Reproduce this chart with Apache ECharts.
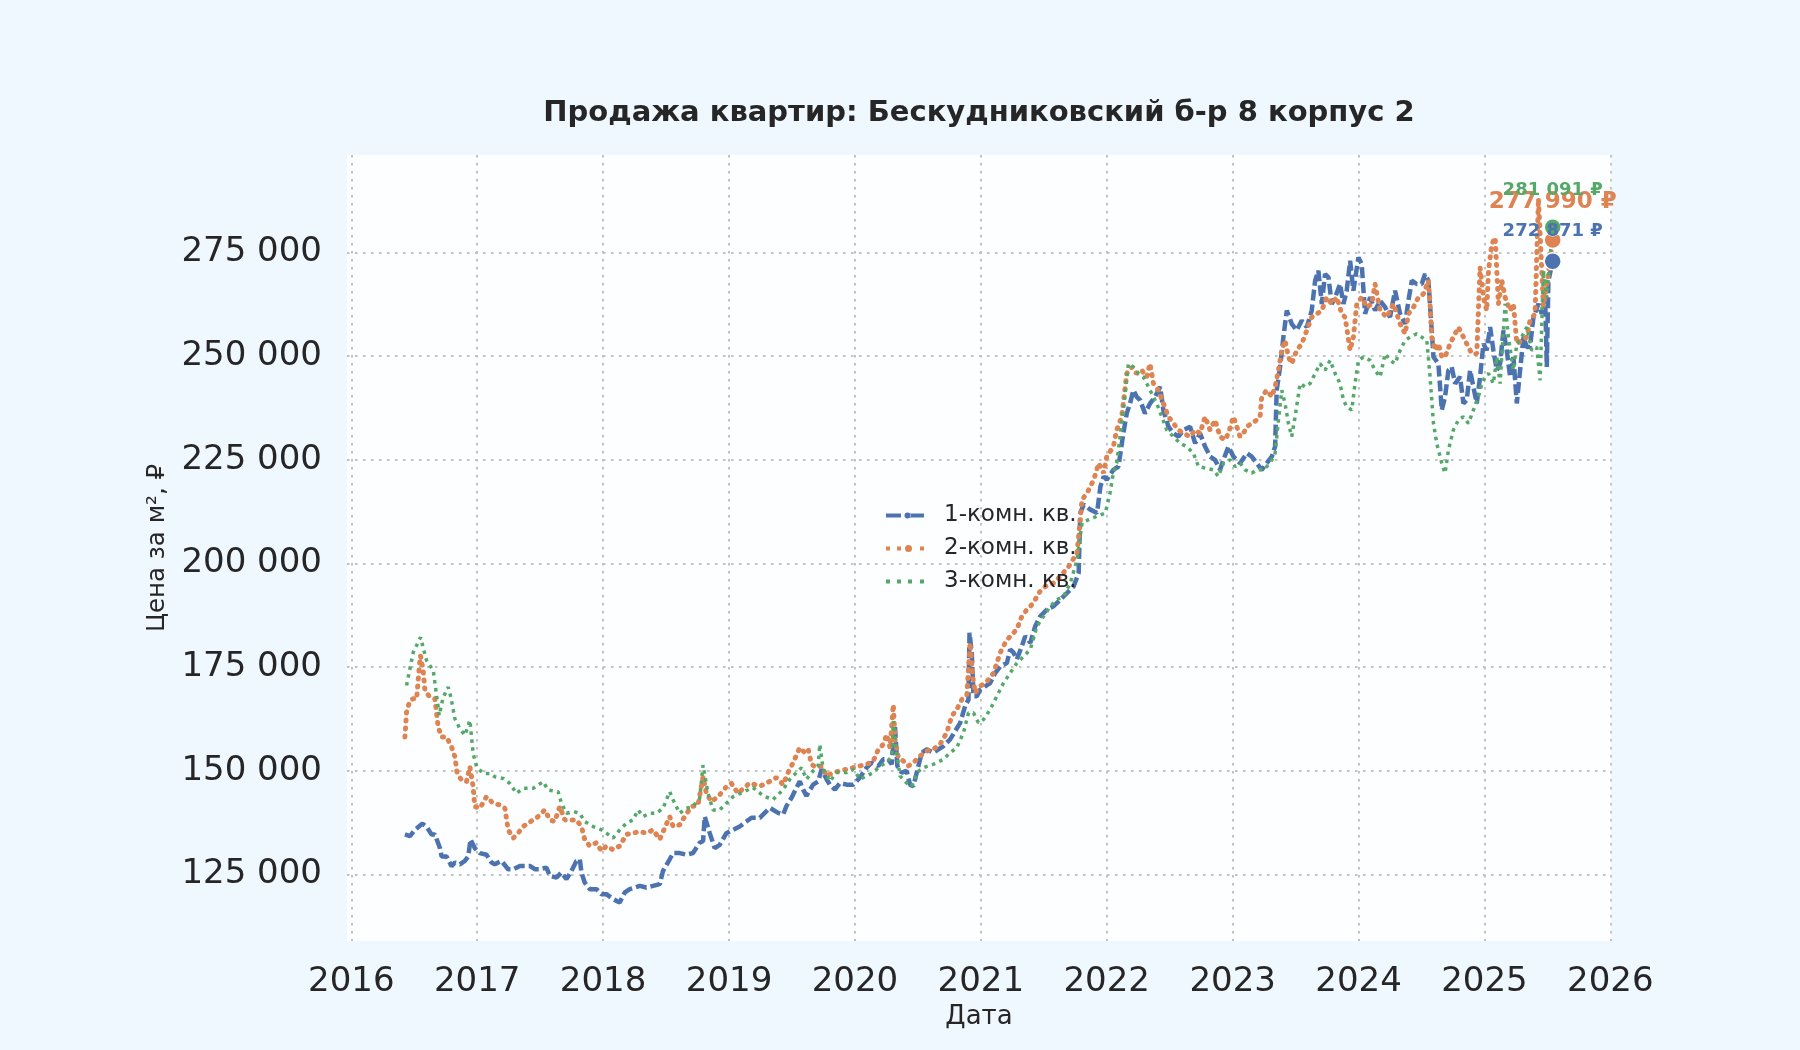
<!DOCTYPE html>
<html lang="ru">
<head>
<meta charset="UTF-8">
<title>Продажа квартир: Бескудниковский б-р 8 корпус 2</title>
<script src="https://cdn.jsdelivr.net/npm/echarts@6.0.0/dist/echarts.min.js"></script>
</head>
<body style="margin:0;background:#f0f8ff;">
<div id="chart" style="width:1800px;height:1050px;"></div>
<script>
var seriesNames = ['1-комн. кв.', '2-комн. кв.', '3-комн. кв.'];
var seriesColors = ['#4c72b0', '#dd8452', '#55a868'];
var yearTicks = [2016, 2017, 2018, 2019, 2020, 2021, 2022, 2023, 2024, 2025, 2026];
var priceTicks = [125000, 150000, 175000, 200000, 225000, 250000, 275000];

// [год, цена за м² в тыс. ₽]
var oneRoom = [
  [2016.426,134.7],[2016.466,134.3],[2016.505,135.8],[2016.566,137.3],[2016.598,136.5],[2016.638,134.7],[2016.664,134.7],[2016.704,131.4],[2016.717,129.4],[2016.757,129.4],[2016.796,127.0],[2016.823,127.9],[2016.862,127.5],[2016.902,128.3],[2016.929,129.4],[2016.947,133.5],[2016.981,131.4],
  [2017.021,130.2],[2017.074,129.8],[2017.114,127.9],[2017.140,127.5],[2017.193,128.3],[2017.246,126.3],[2017.286,126.3],[2017.339,127.1],[2017.378,127.1],[2017.418,127.1],[2017.458,126.3],[2017.497,126.3],[2017.550,126.7],[2017.577,124.7],[2017.630,124.3],[2017.669,125.5],[2017.709,123.9],[2017.749,125.9],[2017.788,128.3],[2017.815,128.7],[2017.828,125.5],[2017.854,123.1],[2017.894,121.5],[2017.947,121.5],[2017.987,120.3],
  [2018.026,120.3],[2018.079,119.1],[2018.132,118.3],[2018.172,120.7],[2018.212,121.5],[2018.251,121.9],[2018.291,122.3],[2018.344,121.9],[2018.397,122.3],[2018.450,122.7],[2018.476,125.9],[2018.529,128.7],[2018.556,130.2],[2018.608,130.2],[2018.661,129.8],[2018.714,130.2],[2018.767,132.7],[2018.794,133.1],[2018.807,139.0],[2018.847,135.0],[2018.886,131.4],[2018.926,132.2],[2018.979,135.0],
  [2019.032,135.8],[2019.085,136.6],[2019.178,138.7],[2019.244,138.7],[2019.324,141.1],[2019.390,139.9],[2019.430,139.5],[2019.456,141.5],[2019.496,143.5],[2019.562,147.5],[2019.589,145.5],[2019.615,144.0],[2019.668,146.7],[2019.708,147.5],[2019.735,150.4],[2019.775,148.0],[2019.801,146.7],[2019.841,145.5],[2019.881,147.1],[2019.934,146.7],[2019.987,146.7],
  [2020.040,148.4],[2020.093,150.8],[2020.133,152.0],[2020.186,151.2],[2020.225,152.8],[2020.265,152.8],[2020.292,151.6],[2020.318,160.8],[2020.337,151.2],[2020.371,149.6],[2020.411,150.0],[2020.438,146.7],[2020.464,146.3],[2020.491,149.6],[2020.531,154.4],[2020.570,155.2],[2020.623,154.4],[2020.663,155.2],[2020.703,156.0],[2020.756,157.6],[2020.796,159.6],[2020.836,161.6],[2020.875,165.6],[2020.902,167.2],[2020.910,183.3],[2020.928,178.5],[2020.942,168.0],[2020.968,168.0],[2020.995,169.6],
  [2021.034,170.4],[2021.074,171.2],[2021.114,173.6],[2021.154,175.2],[2021.207,176.0],[2021.233,179.3],[2021.260,178.5],[2021.286,176.9],[2021.326,180.1],[2021.353,182.5],[2021.393,180.9],[2021.432,184.9],[2021.472,187.3],[2021.525,188.9],[2021.578,189.7],[2021.631,191.3],[2021.684,192.9],[2021.737,194.5],[2021.777,197.7],[2021.790,212.2],[2021.817,214.2],[2021.870,213.0],[2021.923,212.2],[2021.950,218.6],[2021.976,221.0],
  [2022.000,220.2],[2022.053,222.6],[2022.093,223.4],[2022.132,231.4],[2022.159,236.2],[2022.185,238.6],[2022.212,241.8],[2022.238,240.2],[2022.265,239.4],[2022.304,236.2],[2022.344,238.6],[2022.384,240.2],[2022.424,242.6],[2022.450,237.0],[2022.490,233.0],[2022.530,231.4],[2022.569,230.6],[2022.609,232.2],[2022.662,233.0],[2022.702,229.0],[2022.741,231.4],[2022.781,228.2],[2022.821,225.8],[2022.860,225.0],[2022.900,222.6],[2022.927,225.0],[2022.966,228.2],
  [2023.006,225.8],[2023.059,224.2],[2023.112,226.6],[2023.152,225.8],[2023.191,224.2],[2023.231,222.6],[2023.271,224.2],[2023.311,225.8],[2023.337,228.2],[2023.350,241.8],[2023.377,247.4],[2023.403,254.6],[2023.430,261.0],[2023.469,257.8],[2023.509,256.2],[2023.549,258.6],[2023.589,257.0],[2023.628,261.0],[2023.655,268.2],[2023.681,270.6],[2023.708,262.6],[2023.734,269.8],[2023.761,269.0],[2023.787,262.6],[2023.814,264.2],[2023.853,267.4],[2023.880,262.6],[2023.906,265.8],[2023.933,273.0],[2023.959,265.8],[2023.999,273.8],
  [2024.025,272.2],[2024.052,260.2],[2024.092,264.2],[2024.131,261.0],[2024.171,263.4],[2024.211,261.8],[2024.250,259.4],[2024.290,265.8],[2024.330,260.2],[2024.370,257.8],[2024.396,263.4],[2024.423,268.2],[2024.462,267.4],[2024.502,267.4],[2024.528,269.8],[2024.555,268.2],[2024.581,256.2],[2024.595,249.8],[2024.634,248.2],[2024.661,237.0],[2024.687,240.2],[2024.714,246.6],[2024.740,247.4],[2024.767,243.4],[2024.806,245.0],[2024.833,238.6],[2024.859,239.4],[2024.886,246.6],[2024.912,242.6],[2024.939,238.6],[2024.965,245.0],[2024.992,253.0],
  [2025.018,251.4],[2025.045,257.0],[2025.071,251.4],[2025.098,246.6],[2025.124,248.2],[2025.151,256.2],[2025.177,251.4],[2025.204,245.0],[2025.230,249.8],[2025.257,238.6],[2025.283,246.6],[2025.310,254.6],[2025.336,252.2],[2025.362,252.2],[2025.389,259.4],[2025.429,262.6],[2025.455,260.2],[2025.482,264.2],[2025.495,247.4],[2025.508,268.2],[2025.542,272.871]
];

var twoRoom = [
  [2016.426,158.2],[2016.439,164.2],[2016.466,167.0],[2016.492,167.4],[2016.519,167.4],[2016.540,175.0],[2016.550,177.8],[2016.571,174.2],[2016.585,169.4],[2016.624,167.8],[2016.664,167.4],[2016.690,160.6],[2016.717,158.2],[2016.757,158.2],[2016.796,155.8],[2016.823,153.4],[2016.841,149.4],[2016.876,147.8],[2016.915,147.4],[2016.942,151.0],[2016.968,146.2],[2016.981,141.4],
  [2017.021,141.0],[2017.074,143.8],[2017.127,142.2],[2017.180,141.8],[2017.220,141.0],[2017.246,135.8],[2017.286,133.8],[2017.325,135.0],[2017.365,136.6],[2017.405,137.4],[2017.444,138.2],[2017.484,139.0],[2017.537,140.6],[2017.577,138.2],[2017.616,137.8],[2017.656,141.4],[2017.696,138.2],[2017.735,138.2],[2017.788,138.2],[2017.828,136.6],[2017.854,133.5],[2017.894,131.9],[2017.947,132.7],[2017.987,130.7],
  [2018.026,131.9],[2018.079,131.0],[2018.132,131.9],[2018.185,134.7],[2018.238,135.0],[2018.291,135.4],[2018.344,135.0],[2018.397,135.8],[2018.450,133.5],[2018.489,136.2],[2018.529,139.0],[2018.556,136.6],[2018.608,137.0],[2018.648,139.0],[2018.701,141.4],[2018.754,141.8],[2018.794,148.6],[2018.820,144.6],[2018.860,142.6],[2018.913,143.8],[2018.979,146.2],
  [2019.019,147.0],[2019.071,144.6],[2019.164,147.1],[2019.244,146.3],[2019.324,147.5],[2019.377,148.4],[2019.430,146.7],[2019.469,149.6],[2019.509,152.0],[2019.562,155.6],[2019.602,154.4],[2019.629,155.2],[2019.655,151.6],[2019.695,150.8],[2019.735,151.2],[2019.775,148.8],[2019.828,149.6],[2019.881,150.0],[2019.934,150.4],[2019.987,150.8],
  [2020.040,151.2],[2020.093,151.6],[2020.146,152.4],[2020.186,155.2],[2020.225,156.4],[2020.252,158.8],[2020.279,155.6],[2020.305,166.0],[2020.318,157.6],[2020.345,153.2],[2020.385,152.4],[2020.424,151.2],[2020.464,152.0],[2020.517,153.6],[2020.570,154.8],[2020.623,155.2],[2020.676,156.4],[2020.729,159.2],[2020.769,163.2],[2020.809,164.8],[2020.849,167.2],[2020.889,168.4],[2020.915,180.9],[2020.936,172.8],[2020.955,168.8],[2020.995,170.4],
  [2021.048,171.6],[2021.101,173.6],[2021.154,178.5],[2021.194,180.9],[2021.233,182.5],[2021.286,184.1],[2021.326,187.3],[2021.366,188.9],[2021.419,190.5],[2021.459,192.9],[2021.512,194.5],[2021.578,195.3],[2021.631,196.9],[2021.698,199.3],[2021.764,202.5],[2021.804,215.4],[2021.844,217.0],[2021.897,220.2],[2021.936,224.2],[2021.976,221.8],
  [2022.000,225.8],[2022.053,228.2],[2022.079,232.2],[2022.119,235.4],[2022.159,245.8],[2022.199,247.4],[2022.238,245.8],[2022.278,246.6],[2022.318,245.0],[2022.344,248.2],[2022.371,243.4],[2022.410,241.8],[2022.450,238.6],[2022.490,235.4],[2022.530,233.8],[2022.569,232.2],[2022.609,231.4],[2022.662,230.6],[2022.702,232.2],[2022.741,231.4],[2022.781,235.4],[2022.821,232.2],[2022.860,234.6],[2022.900,230.6],[2022.940,229.8],[2022.966,231.4],
  [2023.006,235.4],[2023.033,233.0],[2023.059,230.6],[2023.086,231.4],[2023.112,233.0],[2023.152,233.8],[2023.191,234.6],[2023.218,235.4],[2023.231,240.2],[2023.271,241.8],[2023.311,240.2],[2023.337,242.6],[2023.364,246.6],[2023.390,251.4],[2023.416,253.8],[2023.443,249.8],[2023.469,248.2],[2023.509,251.4],[2023.549,253.0],[2023.589,256.2],[2023.628,259.4],[2023.668,260.2],[2023.708,261.0],[2023.747,264.2],[2023.787,262.6],[2023.827,264.2],[2023.867,260.2],[2023.893,259.4],[2023.933,251.4],[2023.959,254.6],[2023.986,262.6],
  [2024.025,264.2],[2024.065,261.8],[2024.105,262.6],[2024.131,267.4],[2024.171,261.0],[2024.224,259.4],[2024.277,262.6],[2024.330,257.8],[2024.370,255.4],[2024.396,260.2],[2024.436,261.8],[2024.476,264.2],[2024.515,265.0],[2024.555,268.2],[2024.568,262.6],[2024.581,254.6],[2024.608,251.4],[2024.634,253.0],[2024.661,249.8],[2024.687,249.8],[2024.727,253.0],[2024.767,255.4],[2024.793,257.0],[2024.833,254.6],[2024.859,253.0],[2024.899,250.6],[2024.939,250.6],[2024.965,271.4],[2024.992,264.2],
  [2025.018,261.0],[2025.032,270.6],[2025.058,277.0],[2025.085,278.6],[2025.111,262.6],[2025.138,268.2],[2025.164,264.2],[2025.204,261.0],[2025.230,262.6],[2025.257,253.0],[2025.296,253.8],[2025.336,254.6],[2025.362,258.6],[2025.402,260.2],[2025.429,288.0],[2025.468,262.0],[2025.508,270.0],[2025.542,277.990]
];

var threeRoom = [
  [2016.439,170.6],[2016.492,178.6],[2016.550,182.2],[2016.598,176.6],[2016.651,174.2],[2016.683,167.0],[2016.698,163.4],[2016.730,167.8],[2016.770,170.2],[2016.791,167.8],[2016.823,162.6],[2016.862,160.2],[2016.902,158.6],[2016.942,162.2],[2016.968,154.2],[2016.995,151.0],
  [2017.048,149.4],[2017.101,149.4],[2017.140,148.6],[2017.206,148.2],[2017.259,147.0],[2017.312,144.6],[2017.365,145.8],[2017.444,145.8],[2017.524,147.4],[2017.563,145.4],[2017.643,145.0],[2017.669,142.2],[2017.709,139.8],[2017.762,140.2],[2017.815,139.8],[2017.854,137.8],[2017.921,136.6],[2017.987,135.8],
  [2018.026,135.0],[2018.079,133.8],[2018.132,135.8],[2018.185,137.4],[2018.238,138.2],[2018.278,140.6],[2018.317,139.0],[2018.370,139.8],[2018.423,139.8],[2018.476,141.0],[2018.529,145.0],[2018.556,143.0],[2018.608,139.8],[2018.661,141.0],[2018.714,141.4],[2018.767,143.4],[2018.794,151.4],[2018.833,144.6],[2018.873,140.6],[2018.926,140.6],[2018.979,142.2],
  [2019.032,143.8],[2019.191,146.0],[2019.271,144.0],[2019.350,143.1],[2019.430,145.5],[2019.483,148.0],[2019.536,149.6],[2019.576,150.8],[2019.615,148.0],[2019.668,150.0],[2019.708,151.2],[2019.721,156.4],[2019.748,150.4],[2019.801,147.5],[2019.854,149.6],[2019.934,149.6],[2019.987,150.4],
  [2020.040,148.0],[2020.093,148.8],[2020.146,149.6],[2020.199,151.2],[2020.252,152.0],[2020.292,153.6],[2020.305,162.0],[2020.332,154.4],[2020.358,148.8],[2020.411,147.1],[2020.451,146.3],[2020.491,149.6],[2020.544,150.8],[2020.623,151.6],[2020.703,152.8],[2020.756,154.4],[2020.809,155.6],[2020.862,159.2],[2020.902,164.0],[2020.942,164.0],[2020.981,161.6],
  [2021.021,162.4],[2021.074,164.8],[2021.127,168.0],[2021.180,171.2],[2021.233,173.6],[2021.286,176.0],[2021.340,177.6],[2021.393,179.3],[2021.446,184.9],[2021.499,187.3],[2021.552,189.7],[2021.605,191.3],[2021.658,192.1],[2021.711,195.3],[2021.764,200.9],[2021.804,209.8],[2021.857,210.6],[2021.923,211.4],[2021.989,212.2],
  [2022.026,217.0],[2022.053,222.0],[2022.079,224.2],[2022.106,230.6],[2022.132,237.0],[2022.172,248.2],[2022.212,247.4],[2022.252,245.8],[2022.291,245.0],[2022.318,243.4],[2022.357,241.0],[2022.397,238.6],[2022.437,235.4],[2022.477,232.2],[2022.530,230.6],[2022.582,229.0],[2022.635,228.2],[2022.688,226.6],[2022.728,223.4],[2022.781,223.0],[2022.847,222.6],[2022.887,221.0],[2022.927,224.2],[2022.980,225.0],
  [2023.019,223.4],[2023.059,224.2],[2023.099,222.6],[2023.152,221.8],[2023.191,222.6],[2023.244,222.6],[2023.297,224.2],[2023.337,226.6],[2023.364,234.6],[2023.390,241.8],[2023.416,238.6],[2023.443,233.8],[2023.469,230.6],[2023.496,235.4],[2023.536,243.4],[2023.575,242.6],[2023.615,243.4],[2023.655,245.8],[2023.694,248.2],[2023.734,246.6],[2023.774,249.0],[2023.814,245.8],[2023.853,243.4],[2023.880,239.4],[2023.906,237.8],[2023.946,237.0],[2023.972,243.4],[2023.999,249.0],
  [2024.039,249.8],[2024.092,249.0],[2024.131,246.6],[2024.171,245.0],[2024.211,250.6],[2024.250,249.0],[2024.290,248.2],[2024.330,251.4],[2024.370,253.8],[2024.409,254.6],[2024.462,255.4],[2024.502,254.6],[2024.542,253.8],[2024.568,245.0],[2024.595,233.8],[2024.621,229.0],[2024.661,224.2],[2024.687,221.8],[2024.714,227.4],[2024.753,232.2],[2024.793,234.6],[2024.833,235.4],[2024.873,233.8],[2024.912,237.0],[2024.952,240.2],[2024.979,243.4],
  [2025.005,245.0],[2025.032,245.8],[2025.071,243.4],[2025.098,249.8],[2025.124,243.4],[2025.164,262.6],[2025.190,254.6],[2025.230,246.6],[2025.257,253.0],[2025.296,254.6],[2025.336,257.0],[2025.376,251.4],[2025.415,252.2],[2025.442,244.2],[2025.468,270.6],[2025.495,264.2],[2025.521,273.8],[2025.542,281.091]
];

var FONT = 'DejaVu Sans';
var INK = '#262626';

// значки легенды: штрих с точкой, точки с маркером, точки
var legendIcons = [
  'path://M0,2h15v4h-15zM24,2h14v4h-14zM18.5,4a3,3 0 1,0 6,0a3,3 0 1,0 -6,0z',
  'path://M0,2h4v4h-4zM11,2h4v4h-4zM34,2h4v4h-4zM19,4a3.5,3.5 0 1,0 7,0a3.5,3.5 0 1,0 -7,0z',
  'path://M0,2h4v4h-4zM11,2h4v4h-4zM22,2h4v4h-4zM34,2h4v4h-4z'
];

function fmt(v) {
  return String(Math.round(v)).replace(/\B(?=(\d{3})+(?!\d))/g, ' ');
}
function toRub(arr) {
  return arr.map(function (p) { return [p[0], Math.round(p[1] * 1000)]; });
}

// точка и подпись последнего значения
function lastPoint(data, color, size, dist) {
  var p = data[data.length - 1];
  return {
    symbol: 'circle',
    symbolSize: 17,
    itemStyle: { color: color, borderColor: '#ffffff', borderWidth: 1.5 },
    label: {
      show: true, position: 'top', distance: dist,
      formatter: function (d) { return fmt(d.value) + ' ₽'; },
      color: color, fontWeight: 'bold', fontSize: size, fontFamily: FONT
    },
    data: [{ coord: p, value: p[1] }]
  };
}

var d1 = toRub(oneRoom), d2 = toRub(twoRoom), d3 = toRub(threeRoom);

var gridLine = { show: true, lineStyle: { color: '#c2c2c2', width: 2, type: [2.5, 5.5] } };

var chart = echarts.init(document.getElementById('chart'));
chart.setOption({
  backgroundColor: '#f0f8ff',
  animation: false,
  title: {
    text: 'Продажа квартир: Бескудниковский б-р 8 корпус 2',
    left: 974, top: 94, textAlign: 'center',
    textStyle: { fontSize: 29, fontWeight: 'bold', color: INK, fontFamily: FONT }
  },
  legend: {
    data: seriesNames.map(function (n, i) { return { name: n, icon: legendIcons[i] }; }),
    orient: 'vertical',
    left: 881, top: 499,
    itemWidth: 38, itemHeight: 12, itemGap: 10,
    textStyle: { fontSize: 23, color: INK, fontFamily: FONT, padding: [0, 0, 0, 15] }
  },
  grid: {
    left: 347, right: 189, top: 155, bottom: 109,
    show: true, backgroundColor: '#fdfeff', borderWidth: 0
  },
  xAxis: {
    type: 'value', min: 2015.966, max: 2026.005,
    name: 'Дата', nameLocation: 'middle', nameGap: 61,
    nameTextStyle: { fontSize: 26, color: INK, fontFamily: FONT },
    axisLine: { show: false },
    axisTick: { show: false, customValues: yearTicks },
    axisLabel: {
      customValues: yearTicks, margin: 24,
      fontSize: 34, color: INK, fontFamily: FONT,
      formatter: function (v) { return String(Math.round(v)); }
    },
    splitLine: gridLine
  },
  yAxis: {
    type: 'value', min: 109000, max: 298500,
    name: 'Цена за м², ₽', nameLocation: 'middle', nameGap: 174, nameRotate: 90,
    nameTextStyle: { fontSize: 24.5, color: INK, fontFamily: FONT },
    axisLine: { show: false },
    axisTick: { show: false, customValues: priceTicks },
    axisLabel: {
      customValues: priceTicks, margin: 25,
      fontSize: 34, color: INK, fontFamily: FONT,
      formatter: function (v) { return fmt(v); }
    },
    splitLine: gridLine
  },
  series: [
    {
      name: seriesNames[0], type: 'line', data: d1,
      symbol: 'circle', symbolSize: 7, showSymbol: false,
      itemStyle: { color: seriesColors[0] },
      lineStyle: { color: seriesColors[0], width: 4.5, type: [11, 4] },
      markPoint: lastPoint(d1, seriesColors[0], 18, 12)
    },
    {
      name: seriesNames[1], type: 'line', data: d2,
      symbol: 'circle', symbolSize: 7, showSymbol: false,
      itemStyle: { color: seriesColors[1] },
      lineStyle: { color: seriesColors[1], width: 5, type: [1, 7], cap: 'round' },
      markPoint: lastPoint(d2, seriesColors[1], 23, 17)
    },
    {
      name: seriesNames[2], type: 'line', data: d3,
      symbol: 'none',
      itemStyle: { color: seriesColors[2] },
      lineStyle: { color: seriesColors[2], width: 3.5, type: [3.5, 4.5] },
      markPoint: lastPoint(d3, seriesColors[2], 18, 19)
    }
  ]
});
</script>
</body>
</html>
